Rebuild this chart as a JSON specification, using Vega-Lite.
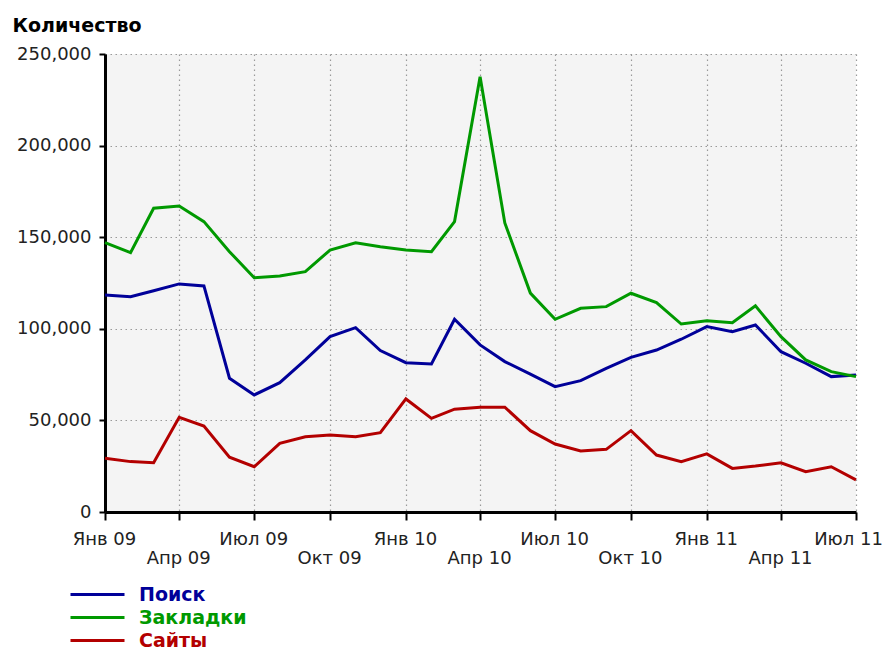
{
  "$schema": "https://vega.github.io/schema/vega-lite/v6.json",
  "width": 751,
  "height": 458,
  "autosize": "none",
  "padding": {"left": 105, "top": 54, "right": 29, "bottom": 137},
  "background": "white",
  "config": {
    "font": "DejaVu Sans",
    "view": {"fill": "#f4f4f4", "stroke": null}
  },
  "data": {
    "format": {"parse": {"m": "date:'%Y-%m'"}},
    "values": [
      {"m":"2009-01","s":"Поиск","v":118500},{"m":"2009-02","s":"Поиск","v":117500},{"m":"2009-03","s":"Поиск","v":120800},{"m":"2009-04","s":"Поиск","v":124500},{"m":"2009-05","s":"Поиск","v":123400},{"m":"2009-06","s":"Поиск","v":73000},{"m":"2009-07","s":"Поиск","v":63900},{"m":"2009-08","s":"Поиск","v":70600},{"m":"2009-09","s":"Поиск","v":83000},{"m":"2009-10","s":"Поиск","v":95700},{"m":"2009-11","s":"Поиск","v":100600},{"m":"2009-12","s":"Поиск","v":88100},
      {"m":"2010-01","s":"Поиск","v":81500},{"m":"2010-02","s":"Поиск","v":80800},{"m":"2010-03","s":"Поиск","v":105200},{"m":"2010-04","s":"Поиск","v":91200},{"m":"2010-05","s":"Поиск","v":82100},{"m":"2010-06","s":"Поиск","v":75300},{"m":"2010-07","s":"Поиск","v":68400},{"m":"2010-08","s":"Поиск","v":71700},{"m":"2010-09","s":"Поиск","v":78400},{"m":"2010-10","s":"Поиск","v":84400},{"m":"2010-11","s":"Поиск","v":88400},{"m":"2010-12","s":"Поиск","v":94300},
      {"m":"2011-01","s":"Поиск","v":101200},{"m":"2011-02","s":"Поиск","v":98400},{"m":"2011-03","s":"Поиск","v":102100},{"m":"2011-04","s":"Поиск","v":87500},{"m":"2011-05","s":"Поиск","v":81200},{"m":"2011-06","s":"Поиск","v":73900},{"m":"2011-07","s":"Поиск","v":74800},
      {"m":"2009-01","s":"Закладки","v":147000},{"m":"2009-02","s":"Закладки","v":141600},{"m":"2009-03","s":"Закладки","v":165800},{"m":"2009-04","s":"Закладки","v":167000},{"m":"2009-05","s":"Закладки","v":158500},{"m":"2009-06","s":"Закладки","v":142100},{"m":"2009-07","s":"Закладки","v":127900},{"m":"2009-08","s":"Закладки","v":128800},{"m":"2009-09","s":"Закладки","v":131200},{"m":"2009-10","s":"Закладки","v":143000},{"m":"2009-11","s":"Закладки","v":147000},{"m":"2009-12","s":"Закладки","v":144800},
      {"m":"2010-01","s":"Закладки","v":143000},{"m":"2010-02","s":"Закладки","v":142100},{"m":"2010-03","s":"Закладки","v":158500},{"m":"2010-04","s":"Закладки","v":237600},{"m":"2010-05","s":"Закладки","v":157800},{"m":"2010-06","s":"Закладки","v":119500},{"m":"2010-07","s":"Закладки","v":105200},{"m":"2010-08","s":"Закладки","v":111200},{"m":"2010-09","s":"Закладки","v":112100},{"m":"2010-10","s":"Закладки","v":119400},{"m":"2010-11","s":"Закладки","v":114300},{"m":"2010-12","s":"Закладки","v":102600},
      {"m":"2011-01","s":"Закладки","v":104400},{"m":"2011-02","s":"Закладки","v":103300},{"m":"2011-03","s":"Закладки","v":112500},{"m":"2011-04","s":"Закладки","v":95700},{"m":"2011-05","s":"Закладки","v":83000},{"m":"2011-06","s":"Закладки","v":76600},{"m":"2011-07","s":"Закладки","v":73900},
      {"m":"2009-01","s":"Сайты","v":29300},{"m":"2009-02","s":"Сайты","v":27500},{"m":"2009-03","s":"Сайты","v":26900},{"m":"2009-04","s":"Сайты","v":51700},{"m":"2009-05","s":"Сайты","v":46900},{"m":"2009-06","s":"Сайты","v":29900},{"m":"2009-07","s":"Сайты","v":24700},{"m":"2009-08","s":"Сайты","v":37500},{"m":"2009-09","s":"Сайты","v":41100},{"m":"2009-10","s":"Сайты","v":42000},{"m":"2009-11","s":"Сайты","v":41100},{"m":"2009-12","s":"Сайты","v":43300},
      {"m":"2010-01","s":"Сайты","v":61700},{"m":"2010-02","s":"Сайты","v":51100},{"m":"2010-03","s":"Сайты","v":56100},{"m":"2010-04","s":"Сайты","v":57200},{"m":"2010-05","s":"Сайты","v":57200},{"m":"2010-06","s":"Сайты","v":44400},{"m":"2010-07","s":"Сайты","v":37100},{"m":"2010-08","s":"Сайты","v":33300},{"m":"2010-09","s":"Сайты","v":34200},{"m":"2010-10","s":"Сайты","v":44400},{"m":"2010-11","s":"Сайты","v":31100},{"m":"2010-12","s":"Сайты","v":27500},
      {"m":"2011-01","s":"Сайты","v":31700},{"m":"2011-02","s":"Сайты","v":23800},{"m":"2011-03","s":"Сайты","v":25100},{"m":"2011-04","s":"Сайты","v":26900},{"m":"2011-05","s":"Сайты","v":22000},{"m":"2011-06","s":"Сайты","v":24700},{"m":"2011-07","s":"Сайты","v":17500}
    ]
  },
  "mark": {"type": "line", "strokeWidth": 3, "interpolate": "linear"},
  "encoding": {
    "x": {
      "field": "m",
      "type": "temporal",
      "scale": {"domain": [{"year": 2009, "month": 1, "date": 1}, {"year": 2011, "month": 7, "date": 1}], "nice": false},
      "axis": {
        "title": null,
        "tickCount": {"interval": "month", "step": 3},
        "labelExpr": "['Янв','Фев','Мар','Апр','Май','Июн','Июл','Авг','Сен','Окт','Ноя','Дек'][month(datum.value)] + ' ' + timeFormat(datum.value, '%y')",
        "labelPadding": {"condition": {"test": "month(datum.value) % 6 == 3", "value": 29}, "value": 10},
        "labelOffset": {"condition": {"test": "year(datum.value) == 2011 && month(datum.value) == 6", "value": -8}, "value": -1},
        "labelBaseline": "top",
        "labelOverlap": false,
        "labelFlush": false,
        "labelFont": "DejaVu Sans",
        "labelFontSize": 18,
        "labelColor": "#222222",
        "domainColor": "black",
        "domainWidth": 3,
        "tickColor": "black",
        "tickWidth": 2,
        "tickSize": 8,
        "grid": true,
        "gridColor": "#999999",
        "gridDash": [1.5, 3.5],
        "gridWidth": 1.2
      }
    },
    "y": {
      "field": "v",
      "type": "quantitative",
      "scale": {"domain": [0, 250000], "nice": false, "zero": true},
      "axis": {
        "values": [0, 50000, 100000, 150000, 200000, 250000],
        "format": ",d",
        "title": "Количество",
        "titleAngle": 0,
        "titleAlign": "left",
        "titleBaseline": "alphabetic",
        "titleX": -93,
        "titleY": -23,
        "titleFont": "DejaVu Sans",
        "titleFontSize": 19,
        "titleFontWeight": "bold",
        "titleColor": "black",
        "labelFont": "DejaVu Sans",
        "labelFontSize": 18,
        "labelColor": "#222222",
        "labelPadding": 8,
        "domainColor": "black",
        "domainWidth": 3,
        "tickColor": "black",
        "tickWidth": 2,
        "tickSize": 6,
        "grid": true,
        "gridColor": "#999999",
        "gridDash": [1.5, 3.5],
        "gridWidth": 1.2
      }
    },
    "color": {
      "field": "s",
      "type": "nominal",
      "scale": {"domain": ["Поиск", "Закладки", "Сайты"], "range": ["#000099", "#009900", "#b30000"]},
      "legend": {
        "orient": "none",
        "legendX": -19,
        "legendY": 529,
        "title": null,
        "symbolType": "M-2.7,0H2.7",
        "symbolSize": 400,
        "symbolStrokeWidth": 3,
        "labelFont": "DejaVu Sans",
        "labelFontSize": 19,
        "labelFontWeight": "bold",
        "labelOffset": 30,
        "labelColor": {"expr": "datum.value == 'Поиск' ? '#000099' : datum.value == 'Закладки' ? '#009900' : '#b30000'"},
        "rowPadding": 1,
        "padding": 0
      }
    }
  }
}
